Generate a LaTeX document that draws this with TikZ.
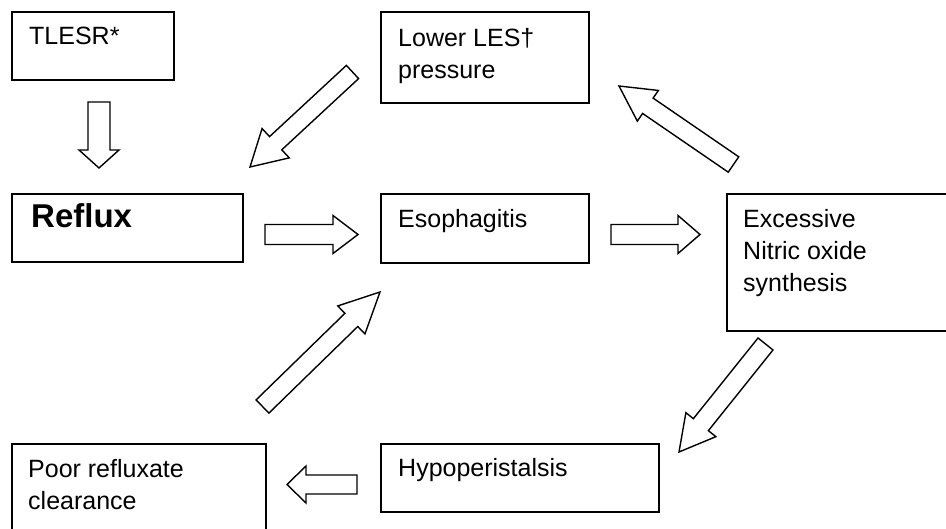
\documentclass[tikz,border=0pt]{standalone}
\usepackage{fontspec}
\setmainfont{Liberation Sans}
\usetikzlibrary{calc}
\tikzset{
  box/.style={draw=black, line width=1.8pt, inner sep=0pt, anchor=north west},
  txt/.style={anchor=base west, inner sep=0pt, align=left, font=\fontsize{25}{32}\selectfont},
  bigtxt/.style={anchor=base west, inner sep=0pt, font=\fontsize{33}{38}\selectfont\bfseries},
  fat/.style={draw=black, line width=1.4pt, fill=white, line join=miter},
}
\newcommand\fatarrow[5]{% tail, tip, half shaft, half head, head length
  \coordinate (hb) at ($(#2)!#5!(#1)$);
  \draw[fat] ($(#1)!#3!90:(#2)$) -- ($(hb)!#3!90:(#2)$) -- ($(hb)!#4!90:(#2)$) -- (#2)
    -- ($(hb)!#4!-90:(#2)$) -- ($(hb)!#3!-90:(#2)$) -- ($(#1)!#3!-90:(#2)$) -- cycle;
}
\begin{document}
\begin{tikzpicture}[x=1pt,y=-1pt]
\useasboundingbox (0,0) rectangle (946,529);
\fill[white] (0,0) rectangle (946,529);
\clip (0,0) rectangle (946,529);
% boxes
\node[box, minimum width=162pt, minimum height=68pt] (tlesr) at (11,11) {};
\node[box, minimum width=208pt, minimum height=91pt] (les) at (380,11) {};
\node[box, minimum width=231pt, minimum height=68pt] (reflux) at (11,193) {};
\node[box, minimum width=208pt, minimum height=69pt] (eso) at (380,193) {};
\node[box, minimum width=240pt, minimum height=137pt] (nos) at (726,193) {};
\node[box, minimum width=278pt, minimum height=68pt] (hypo) at (380,443) {};
\node[box, minimum width=254pt, minimum height=100pt] (poor) at (11,443) {};
% texts (base anchor = baseline of last line)
\node[txt] (tlesrT) at ($(tlesr.north west)+(18,34)$) {TLESR*};
\node[txt] (lesT) at ($(les.north west)+(18,68)$) {Lower LES†\\pressure};
\node[bigtxt] (refluxT) at ($(reflux.north west)+(20,35)$) {Reflux};
\node[txt] (esoT) at ($(eso.north west)+(18,35)$) {Esophagitis};
\node[txt] (nosT) at ($(nos.north west)+(17,99)$) {Excessive\\Nitric oxide\\synthesis};
\node[txt] (hypoT) at ($(hypo.north west)+(18,34)$) {Hypoperistalsis};
\node[txt] (poorT) at ($(poor.north west)+(17,66)$) {Poor refluxate\\clearance};
% arrow end points
\coordinate (a1s) at (99,102);    \coordinate (a1e) at (99,168);
\coordinate (a2s) at (352.5,72);  \coordinate (a2e) at (250,167);
\coordinate (a3s) at (265,234.5); \coordinate (a3e) at (358,234.5);
\coordinate (a4s) at (611,234.5); \coordinate (a4e) at (700,234.5);
\coordinate (a5s) at (733.5,164.5); \coordinate (a5e) at (619,86);
\coordinate (a6s) at (765.5,344); \coordinate (a6e) at (679,452);
\coordinate (a7s) at (357,484.5); \coordinate (a7e) at (287,484.5);
\coordinate (a8s) at (262.5,406.5); \coordinate (a8e) at (380,292);
% arrows
\fatarrow{a1s}{a1e}{11pt}{20pt}{18pt}
\fatarrow{a2s}{a2e}{9pt}{20pt}{35pt}
\fatarrow{a3s}{a3e}{10pt}{19pt}{25pt}
\fatarrow{a4s}{a4e}{10pt}{19pt}{22pt}
\fatarrow{a5s}{a5e}{9.3pt}{18.6pt}{35pt}
\fatarrow{a6s}{a6e}{9.6pt}{19.2pt}{35pt}
\fatarrow{a7s}{a7e}{9.5pt}{18.5pt}{19pt}
\fatarrow{a8s}{a8e}{9.2pt}{19.5pt}{40pt}
\end{tikzpicture}
\end{document}
